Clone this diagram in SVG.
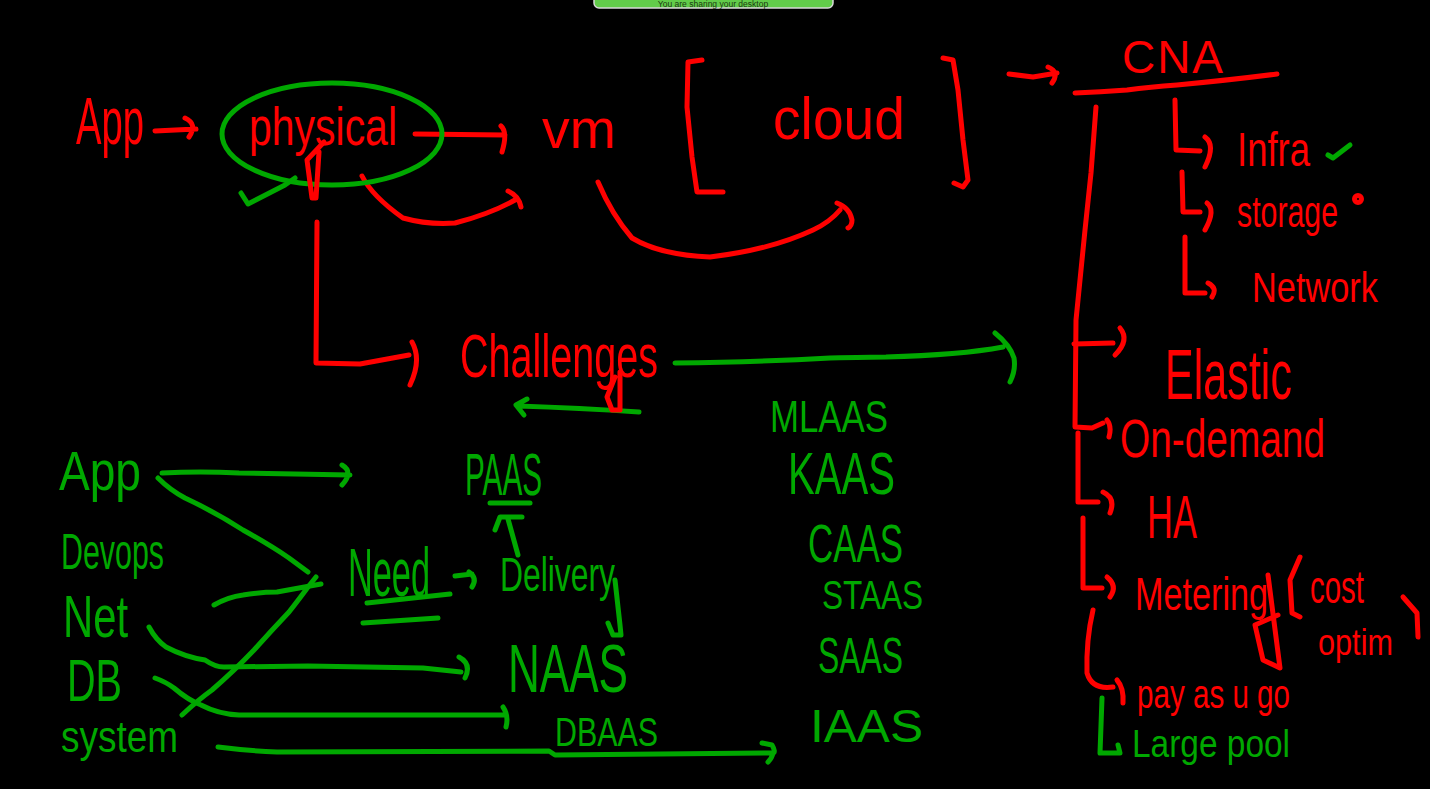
<svg xmlns="http://www.w3.org/2000/svg" width="1430" height="789" viewBox="0 0 1430 789">
<style>
.r{fill:none;stroke:#ff0000;stroke-width:5;stroke-linecap:round;stroke-linejoin:round}
.g{fill:none;stroke:#00a800;stroke-width:5;stroke-linecap:round;stroke-linejoin:round}
text{font-family:"Liberation Sans","DejaVu Sans",sans-serif}
.tr{fill:#ff0000}
.tg{fill:#00a800}
</style>
<rect x="0" y="0" width="1430" height="789" fill="#000"/>
<g id="share-bar">
<rect x="594" y="-12" width="239" height="20" rx="5" fill="#62cc4a" stroke="#d8d8d8" stroke-width="1.5"/>
<text x="713" y="7" font-size="8.5" fill="#1a3a10" text-anchor="middle">You are sharing your desktop</text>
</g>

<g id="connectors">
<path class="r" d="M155,131 L196,129 M185,118 Q198,124 189,137"/>
<path class="r" d="M415,134 L505,135 M501,126 Q508,132 502,152"/>
<path class="r" d="M362,176 Q372,196 403,218 Q428,225 455,223 Q490,214 515,200 M508,191 Q519,196 521,207"/>
<path class="r" d="M598,182 Q612,215 632,238 Q660,255 710,257 Q770,250 813,230 Q830,222 840,210 M837,203 Q850,208 852,220 Q852,226 848,228"/>
<path class="r" d="M1009,74 L1033,77 L1057,73 M1048,67 Q1060,72 1052,83"/>
<path class="r" d="M317,222 L316,363 L360,364 L409,355 M412,342 Q422,360 410,385"/>
<path class="g" d="M675,363 Q760,362 830,358 Q870,357 886,357 Q960,355 1003,347 M995,333 Q1010,345 1014,358 Q1016,370 1010,382"/>
<path class="g" d="M639,412 Q580,408 518,406 M527,399 L516,405 L524,415"/>
<path class="r" d="M1075,93 Q1100,92 1127,90 Q1150,87 1177,85 Q1230,80 1277,74"/>
<path class="r" d="M1096,107 L1091,173 L1085,230 L1076,320 L1075,427 L1092,428 L1103,423 M1107,420 Q1112,426 1109,437"/>
<path class="r" d="M1074,344 L1113,343 M1120,328 Q1130,340 1115,355"/>
<path class="r" d="M1078,433 L1078,502 L1098,502 M1103,492 Q1116,498 1110,513"/>
<path class="r" d="M1083,518 L1083,588 L1102,588 M1107,577 Q1118,586 1110,597"/>
<path class="r" d="M1093,610 Q1086,640 1087,673 Q1092,690 1113,687 M1117,680 Q1124,688 1123,703"/>
<path class="g" d="M1102,698 L1100,753 L1120,753 L1118,745"/>
<path class="r" d="M1175,100 L1176,150 L1200,151 M1205,137 Q1216,145 1205,167"/>
<path class="r" d="M1182,172 L1183,212 L1200,212 M1207,203 Q1216,210 1205,230"/>
<path class="r" d="M1185,237 L1185,293 L1205,293 M1208,283 Q1218,288 1212,297"/>
<path class="g" d="M162,473 Q200,471 239,473 Q300,474 350,475 M342,465 Q354,472 342,485"/>
<path class="g" d="M158,478 Q170,490 185,498 Q215,512 243,530 Q270,545 289,558 L308,572"/>
<path class="g" d="M214,605 Q228,597 243,595 Q262,592 277,592 L321,584"/>
<path class="g" d="M182,715 Q198,700 212,690 Q235,670 254,650 Q272,630 289,612 Q300,598 308,587 L316,577"/>
<path class="g" d="M455,576 L472,574 M469,572 Q478,578 472,587"/>
<path class="g" d="M518,555 L508,519 M495,530 L500,517 L522,517"/>
<path class="g" d="M149,627 Q156,640 166,647 Q185,657 205,660 Q215,667 224,667 L308,666 L423,668 L461,672 M459,657 Q472,664 465,678"/>
<path class="g" d="M155,678 Q166,682 174,688 Q188,700 201,705 Q218,714 239,715 L407,715 L505,715 M503,707 Q509,716 506,727"/>
<path class="g" d="M218,747 Q250,751 277,752 L549,751 L555,755 L773,753 M762,743 L772,745 Q776,752 773,753 Q772,758 768,762"/>
</g>

<g id="node-app">
<text class="tr" x="76" y="144" font-size="66" textLength="68" lengthAdjust="spacingAndGlyphs">App</text>
</g>
<g id="node-physical">
<ellipse class="g" cx="332" cy="134" rx="110" ry="51"/>
<path class="g" d="M241,193 L248,204 L285,185 L295,178"/>
<text class="tr" x="249" y="145" font-size="54" textLength="148" lengthAdjust="spacingAndGlyphs">physical</text>
<path class="r" d="M324,142 L307,160 L312,198 L316,198 L319,152"/>
</g>
<g id="node-vm">
<text class="tr" x="542" y="148" font-size="56" textLength="74" lengthAdjust="spacingAndGlyphs">vm</text>
</g>
<g id="node-cloud">
<path class="r" d="M702,60 L688,62 L687,107 L692,157 L697,192 L723,192"/>
<text class="tr" x="773" y="139" font-size="60" textLength="132" lengthAdjust="spacingAndGlyphs">cloud</text>
<path class="r" d="M943,58 L953,60 L958,90 L963,140 L968,180 L963,187 L954,183"/>
</g>
<g id="node-cna">
<text class="tr" x="1122" y="73" font-size="46" textLength="101" lengthAdjust="spacing">CNA</text>
</g>
<g id="node-infra">
<text class="tr" x="1237" y="166" font-size="48" textLength="73" lengthAdjust="spacingAndGlyphs">Infra</text>
<path class="g" d="M1328,155 L1333,158 L1350,145"/>
</g>
<g id="node-storage">
<text class="tr" x="1237" y="227" font-size="44" textLength="101" lengthAdjust="spacingAndGlyphs">storage</text>
<circle class="r" cx="1358" cy="199" r="3.5" stroke-width="3.5"/>
</g>
<g id="node-network">
<text class="tr" x="1252" y="302" font-size="42" textLength="126" lengthAdjust="spacingAndGlyphs">Network</text>
</g>
<g id="node-elastic">
<text class="tr" x="1165" y="399" font-size="70" textLength="127" lengthAdjust="spacingAndGlyphs">Elastic</text>
</g>
<g id="node-ondemand">
<text class="tr" x="1120" y="457" font-size="54" textLength="205" lengthAdjust="spacingAndGlyphs">On-demand</text>
</g>
<g id="node-ha">
<text class="tr" x="1147" y="538" font-size="62" textLength="50" lengthAdjust="spacingAndGlyphs">HA</text>
</g>
<g id="node-metering">
<text class="tr" x="1135" y="610" font-size="46" textLength="133" lengthAdjust="spacingAndGlyphs">Metering</text>
<path class="r" d="M1268,575 L1280,668 L1263,660 L1255,625 L1278,615"/>
</g>
<g id="node-cost">
<path class="r" d="M1300,557 L1290,580 L1292,613 L1300,617"/>
<text class="tr" x="1310" y="603" font-size="46" textLength="54" lengthAdjust="spacingAndGlyphs">cost</text>
<text class="tr" x="1318" y="655" font-size="36" textLength="75" lengthAdjust="spacingAndGlyphs">optim</text>
<path class="r" d="M1403,597 L1417,613 L1418,637"/>
</g>
<g id="node-payasugo">
<text class="tr" x="1137" y="708" font-size="40" textLength="153" lengthAdjust="spacingAndGlyphs">pay as u go</text>
</g>
<g id="node-largepool">
<text class="tg" x="1132" y="757" font-size="38" textLength="158" lengthAdjust="spacingAndGlyphs">Large pool</text>
</g>
<g id="node-challenges">
<text class="tr" x="460" y="377" font-size="62" textLength="198" lengthAdjust="spacingAndGlyphs">Challenges</text>
<path class="r" d="M615,377 L607,397 L612,410 L620,410 L620,372"/>
</g>
<g id="node-mlaas"><text class="tg" x="770" y="432" font-size="44" textLength="118" lengthAdjust="spacingAndGlyphs">MLAAS</text></g>
<g id="node-kaas"><text class="tg" x="788" y="494" font-size="60" textLength="107" lengthAdjust="spacingAndGlyphs">KAAS</text></g>
<g id="node-caas"><text class="tg" x="808" y="562" font-size="54" textLength="95" lengthAdjust="spacingAndGlyphs">CAAS</text></g>
<g id="node-staas"><text class="tg" x="822" y="609" font-size="40" textLength="101" lengthAdjust="spacingAndGlyphs">STAAS</text></g>
<g id="node-saas"><text class="tg" x="818" y="673" font-size="50" textLength="85" lengthAdjust="spacingAndGlyphs">SAAS</text></g>
<g id="node-iaas"><text class="tg" x="810" y="742" font-size="46" textLength="113" lengthAdjust="spacingAndGlyphs">IAAS</text></g>
<g id="node-paas">
<text class="tg" x="465" y="495" font-size="60" textLength="77" lengthAdjust="spacingAndGlyphs">PAAS</text>
<path class="g" d="M490,503 L530,503"/>
</g>
<g id="node-delivery">
<text class="tg" x="500" y="591" font-size="48" textLength="115" lengthAdjust="spacingAndGlyphs">Delivery</text>
<path class="g" d="M615,580 L620,625 L621,635 L613,635 L608,623"/>
</g>
<g id="node-naas"><text class="tg" x="508" y="692" font-size="68" textLength="120" lengthAdjust="spacingAndGlyphs">NAAS</text></g>
<g id="node-dbaas"><text class="tg" x="555" y="746" font-size="40" textLength="103" lengthAdjust="spacingAndGlyphs">DBAAS</text></g>
<g id="node-need">
<text class="tg" x="348" y="596" font-size="68" textLength="82" lengthAdjust="spacingAndGlyphs">Need</text>
<path class="g" d="M367,603 L450,594 M363,623 L438,618"/>
</g>
<g id="node-app2"><text class="tg" x="59" y="490" font-size="56" textLength="82" lengthAdjust="spacingAndGlyphs">App</text></g>
<g id="node-devops"><text class="tg" x="61" y="569" font-size="50" textLength="103" lengthAdjust="spacingAndGlyphs">Devops</text></g>
<g id="node-net"><text class="tg" x="63" y="637" font-size="60" textLength="65" lengthAdjust="spacingAndGlyphs">Net</text></g>
<g id="node-db"><text class="tg" x="67" y="701" font-size="60" textLength="55" lengthAdjust="spacingAndGlyphs">DB</text></g>
<g id="node-system"><text class="tg" x="61" y="752" font-size="44" textLength="117" lengthAdjust="spacingAndGlyphs">system</text></g>
</svg>
